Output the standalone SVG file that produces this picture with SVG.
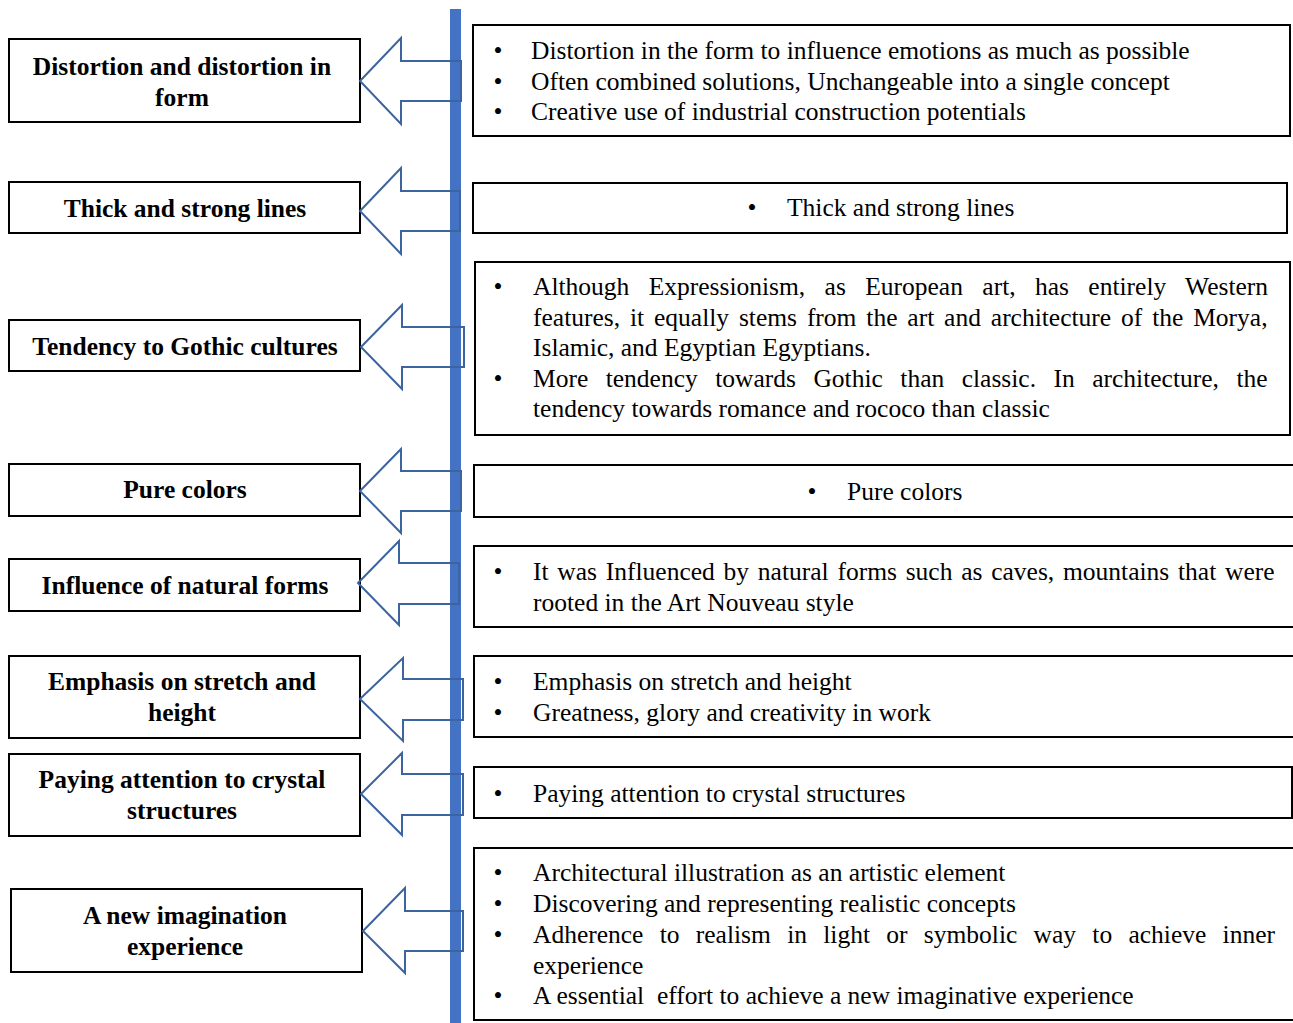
<svg xmlns="http://www.w3.org/2000/svg" width="1293" height="1023" viewBox="0 0 1293 1023">
<style>
.box{fill:#fff;stroke:#000;stroke-width:2}
.arrow{fill:none;stroke:#3C649F;stroke-width:2;stroke-linejoin:miter}
.lt{font-family:"Liberation Serif","Times New Roman",serif;font-weight:bold;font-size:25.5px;fill:#000;text-anchor:middle}
.rt{font-family:"Liberation Serif","Times New Roman",serif;font-size:25.5px;fill:#000}
.bl{font-family:"Liberation Serif","Times New Roman",serif;font-size:25.5px;fill:#000;text-anchor:middle}
</style>
<rect width="1293" height="1023" fill="#fff"/>
<rect id="timeline" x="450" y="9" width="11" height="1014" fill="#4472C4"/>

<g id="left1"><rect class="box" x="9" y="39" width="351" height="83"/><text class="lt" x="182" y="75">Distortion and distortion in</text><text class="lt" x="182" y="106">form</text></g>
<g id="left2"><rect class="box" x="9" y="182" width="351" height="51"/><text class="lt" x="185" y="217">Thick and strong lines</text></g>
<g id="left3"><rect class="box" x="9" y="320" width="351" height="51"/><text class="lt" x="185" y="355">Tendency to Gothic cultures</text></g>
<g id="left4"><rect class="box" x="9" y="464" width="351" height="52"/><text class="lt" x="185" y="498">Pure colors</text></g>
<g id="left5"><rect class="box" x="9" y="559" width="351" height="52"/><text class="lt" x="185" y="594">Influence of natural forms</text></g>
<g id="left6"><rect class="box" x="9" y="656" width="351" height="82"/><text class="lt" x="182" y="690">Emphasis on stretch and</text><text class="lt" x="182" y="721">height</text></g>
<g id="left7"><rect class="box" x="9" y="754" width="351" height="82"/><text class="lt" x="182" y="788">Paying attention to crystal</text><text class="lt" x="182" y="819">structures</text></g>
<g id="left8"><rect class="box" x="11" y="889" width="351" height="83"/><text class="lt" x="185" y="924">A new imagination</text><text class="lt" x="185" y="955">experience</text></g>

<g id="connectors">
<path class="arrow" d="M360,81 L401,38 L401,61 L461,61 L461,101 L401,101 L401,124 Z"/>
<path class="arrow" d="M360,211 L401,168 L401,191 L460,191 L460,231 L401,231 L401,254 Z"/>
<path class="arrow" d="M361,347 L402,305 L402,327 L464,327 L464,367 L402,367 L402,389 Z"/>
<path class="arrow" d="M360,491 L401,449 L401,471 L461,471 L461,511 L401,511 L401,533 Z"/>
<path class="arrow" d="M358,583 L399,541 L399,563 L459,563 L459,604 L399,604 L399,625 Z"/>
<path class="arrow" d="M360,699 L403,658 L403,679 L463,679 L463,720 L403,720 L403,741 Z"/>
<path class="arrow" d="M361,794 L402,753 L402,774 L463,774 L463,815 L402,815 L402,835 Z"/>
<path class="arrow" d="M363,931 L405,888 L405,911 L463,911 L463,951 L405,951 L405,973 Z"/>
</g>

<g id="right1"><rect class="box" x="473" y="25" width="817" height="111"/>
<text class="bl" x="498" y="59">•</text><text class="rt" x="531" y="59">Distortion in the form to influence emotions as much as possible</text>
<text class="bl" x="498" y="90">•</text><text class="rt" x="531" y="90">Often combined solutions, Unchangeable into a single concept</text>
<text class="bl" x="498" y="120">•</text><text class="rt" x="531" y="120">Creative use of industrial construction potentials</text></g>
<g id="right2"><rect class="box" x="473" y="183" width="814" height="50"/>
<text class="bl" x="752" y="216">•</text><text class="rt" x="787" y="216">Thick and strong lines</text></g>
<g id="right3"><rect class="box" x="475" y="262" width="815" height="173"/>
<text class="bl" x="498" y="295">•</text><text class="rt" x="533" y="295" word-spacing="13">Although Expressionism, as European art, has entirely Western</text>
<text class="rt" x="533" y="326" word-spacing="3.5">features, it equally stems from the art and architecture of the Morya,</text>
<text class="rt" x="533" y="356">Islamic, and Egyptian Egyptians.</text>
<text class="bl" x="498" y="387">•</text><text class="rt" x="533" y="387" word-spacing="11.1">More tendency towards Gothic than classic. In architecture, the</text>
<text class="rt" x="533" y="417">tendency towards romance and rococo than classic</text></g>
<g id="right4"><rect class="box" x="474" y="465" width="825" height="52"/>
<text class="bl" x="812" y="500">•</text><text class="rt" x="847" y="500">Pure colors</text></g>
<g id="right5"><rect class="box" x="474" y="546" width="825" height="81"/>
<text class="bl" x="498" y="580">•</text><text class="rt" x="533" y="580" word-spacing="2.4">It was Influenced by natural forms such as caves, mountains that were</text>
<text class="rt" x="533" y="611">rooted in the Art Nouveau style</text></g>
<g id="right6"><rect class="box" x="474" y="656" width="825" height="81"/>
<text class="bl" x="498" y="690">•</text><text class="rt" x="533" y="690">Emphasis on stretch and height</text>
<text class="bl" x="498" y="721">•</text><text class="rt" x="533" y="721">Greatness, glory and creativity in work</text></g>
<g id="right7"><rect class="box" x="474" y="767" width="818" height="51"/>
<text class="bl" x="498" y="802">•</text><text class="rt" x="533" y="802">Paying attention to crystal structures</text></g>
<g id="right8"><rect class="box" x="474" y="848" width="825" height="172"/>
<text class="bl" x="498" y="881">•</text><text class="rt" x="533" y="881">Architectural illustration as an artistic element</text>
<text class="bl" x="498" y="912">•</text><text class="rt" x="533" y="912">Discovering and representing realistic concepts</text>
<text class="bl" x="498" y="943">•</text><text class="rt" x="533" y="943" word-spacing="9.9">Adherence to realism in light or symbolic way to achieve inner</text>
<text class="rt" x="533" y="974">experience</text>
<text class="bl" x="498" y="1004">•</text><text class="rt" x="533" y="1004" style="white-space:pre">A essential  effort to achieve a new imaginative experience</text></g>
</svg>
